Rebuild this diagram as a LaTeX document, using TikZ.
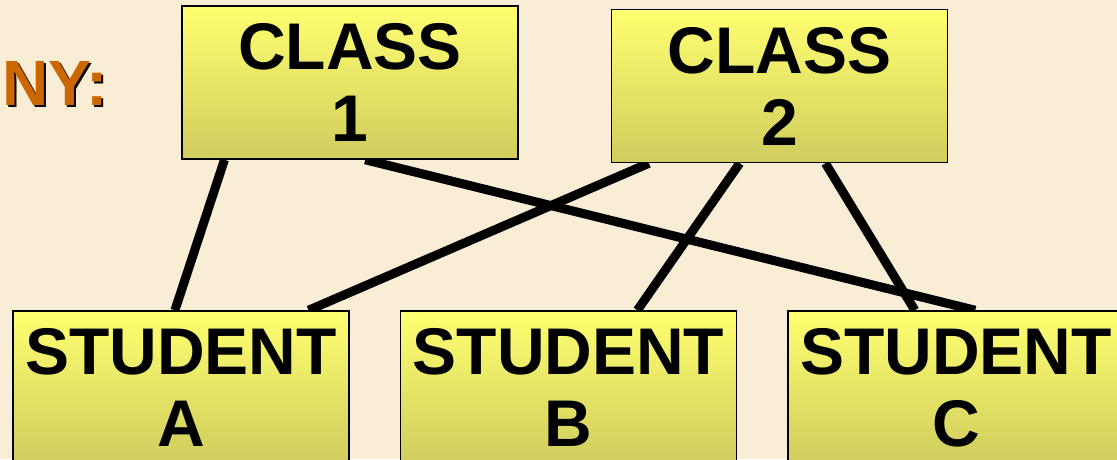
\documentclass[tikz,border=0pt]{standalone}
\usepackage{fontspec}
\setmainfont{Liberation Sans}
\usetikzlibrary{calc}

\definecolor{parchment}{RGB}{249,237,213}
\definecolor{boxtop}{RGB}{255,255,112}
\definecolor{boxbottom}{RGB}{208,204,94}
\definecolor{tagorange}{RGB}{204,102,0}

% links go between paper and boxes
\pgfdeclarelayer{paper}
\pgfdeclarelayer{wires}
\pgfsetlayers{paper,wires,main}

\begin{document}
\begin{tikzpicture}[
    x=1pt, y=-1pt,
    entity/.style={draw=black,line width=1.5pt,top color=boxtop,bottom color=boxbottom,
        minimum width=336pt,minimum height=153pt,inner sep=0pt,align=center,
        font=\fontsize{66}{72}\selectfont\bfseries},
    tag/.style={anchor=base west,inner sep=0pt,font=\fontsize{64}{70}\selectfont\bfseries},
    link/.style={line width=9pt}]
    \clip (0,0) rectangle (1117,459);
    \begin{pgfonlayer}{paper}
        \fill[parchment] (0,0) rectangle (1117,459);
    \end{pgfonlayer}

    % Titulo cortado a la izquierda, con sombra.
    \node[tag,text=black] (tagshadow) at (4.5,107.5) {NY:};
    \node[tag,text=tagorange] (tagtext) at (2,105) {NY:};

    % Clases arriba, alumnos abajo.
    \node[entity] (class1) at (350,82.5) {CLASS\\1};
    \node[entity] (class2) at (779.5,86) {CLASS\\2};
    \node[entity] (studentA) at (181,387.5) {STUDENT\\A};
    \node[entity] (studentB) at (568.5,387.5) {STUDENT\\B};
    \node[entity] (studentC) at (956,387.5) {STUDENT\\C};

    \begin{pgfonlayer}{wires}
        \draw[link] ($(class1.south west)!.128!(class1.south east)$)
            -- ($(studentA.north west)!.482!(studentA.north east)$);
        \draw[link] ($(class1.south west)!.545!(class1.south east)$)
            -- ($(studentC.north west)!.557!(studentC.north east)$);
        \draw[link] ($(class2.south west)!.113!(class2.south east)$)
            -- ($(studentA.north west)!.878!(studentA.north east)$);
        \draw[link] ($(class2.south west)!.382!(class2.south east)$)
            -- ($(studentB.north west)!.704!(studentB.north east)$);
        \draw[link] ($(class2.south west)!.636!(class2.south east)$)
            -- ($(studentC.north west)!.378!(studentC.north east)$);
    \end{pgfonlayer}
\end{tikzpicture}
\end{document}
